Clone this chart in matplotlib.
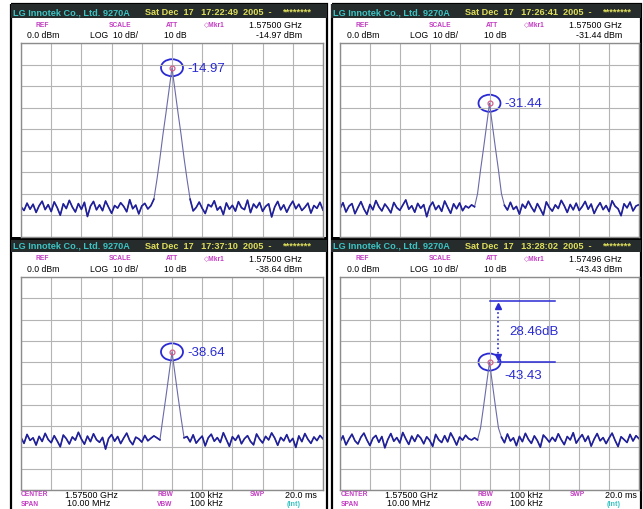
import numpy as np
import matplotlib
matplotlib.use('Agg')
import matplotlib.pyplot as plt
import matplotlib.transforms as mtransforms
from matplotlib.patches import Rectangle, Ellipse

plt.rcParams['font.family'] = ['Liberation Sans', 'DejaVu Sans']

# marker readings (dBm) for the four captures: TL, TR, BL, BR
mkr_dbm = [-14.97, -31.44, -38.64, -43.43]
mkr_ghz = ['1.57500', '1.57500', '1.57500', '1.57496']
stamps = ['17:22:49', '17:26:41', '17:37:10', '13:28:02']

# carrier shape relative to the marker, MHz offset vs dB
peak_off = [-0.7, -0.6, -0.5, -0.4, -0.3, -0.2, -0.1, 0.0,
            0.1, 0.2, 0.3, 0.4, 0.5, 0.6, 0.7]
peak_rel = [-68, -61, -52, -42, -31, -21, -10.5, 0,
            -10.5, -21, -31, -42, -52, -61, -68]

# noise floor traces, -5..+5 MHz around centre, 0.1 MHz steps
noise_tl = [-79.5, -81.2, -77.8, -80.6, -78.3, -82.1, -79.0, -76.9, -80.8, -78.5,
            -81.7, -77.2, -79.9, -83.4, -78.1, -80.3, -76.5, -79.6, -81.9, -78.0,
            -80.7, -77.4, -84.0, -79.2, -77.0, -80.9, -78.6, -81.3, -76.8, -79.7,
            -82.5, -78.9, -80.1, -77.6, -79.3, -81.8, -76.2, -80.4, -78.7, -82.8,
            -79.1, -77.9, -80.5, -79.0, -78.0, -79.0, -80.0, -80.0, -80.0, -80.0,
            -80.0, -80.0, -80.0, -80.0, -80.0, -79.0, -78.5, -81.4, -79.8, -77.3,
            -80.2, -82.6, -78.4, -79.5, -76.7, -81.0, -79.4, -83.1, -77.7, -80.6,
            -78.8, -81.5, -77.1, -79.9, -80.8, -76.4, -82.2, -78.2, -80.0, -77.5,
            -81.6, -79.3, -78.1, -84.2, -79.6, -77.0, -80.9, -78.6, -82.0, -79.1,
            -76.9, -80.4, -78.3, -81.2, -79.7, -77.8, -82.4, -78.9, -80.2, -77.4, -81.0]
noise_tr = [-80.3, -77.6, -81.9, -79.2, -78.0, -82.7, -79.8, -77.1, -80.5, -83.0,
            -78.4, -80.9, -76.6, -79.5, -81.4, -78.2, -80.0, -82.3, -77.5, -79.9,
            -81.1, -78.7, -76.3, -80.6, -79.0, -82.0, -77.9, -80.2, -78.5, -84.1,
            -79.4, -77.3, -80.8, -78.9, -81.6, -76.8, -79.7, -82.5, -78.1, -80.4,
            -77.7, -81.3, -79.1, -80.0, -78.6, -79.5, -80.0, -80.0, -80.0, -80.0,
            -80.0, -80.0, -80.0, -80.0, -79.5, -78.8, -81.0, -77.4, -80.7, -79.3,
            -82.9, -78.3, -80.1, -76.9, -79.6, -81.8, -78.0, -80.5, -83.3, -77.2,
            -79.8, -81.5, -78.6, -80.3, -76.5, -79.0, -82.1, -78.4, -80.9, -77.8,
            -81.2, -79.4, -77.0, -80.6, -78.2, -82.6, -79.7, -77.6, -80.8, -78.9,
            -81.7, -76.7, -79.2, -80.4, -83.6, -78.1, -80.0, -77.3, -81.4, -79.1, -78.5]
noise_bl = [-78.9, -81.6, -77.4, -80.2, -79.0, -82.4, -78.3, -80.7, -76.9, -79.8,
            -81.3, -78.0, -80.5, -83.2, -77.7, -79.4, -81.9, -78.6, -80.1, -76.4,
            -79.6, -82.0, -78.2, -80.8, -77.1, -79.9, -81.1, -78.8, -84.3, -79.3,
            -77.5, -80.6, -78.4, -81.7, -79.1, -76.8, -80.3, -82.2, -78.7, -79.5,
            -81.0, -77.9, -80.4, -79.2, -78.1, -79.0, -80.0, -80.0, -80.0, -80.0,
            -80.0, -80.0, -80.0, -80.0, -79.0, -78.4, -80.9, -77.6, -81.5, -79.7,
            -78.2, -82.8, -79.0, -77.3, -80.6, -78.9, -81.2, -76.6, -79.8, -83.0,
            -78.5, -80.2, -77.8, -81.8, -79.4, -78.0, -80.7, -82.3, -77.2, -79.6,
            -81.4, -78.3, -80.0, -76.7, -79.1, -82.5, -78.8, -80.4, -77.5, -81.0,
            -79.3, -83.5, -78.1, -80.8, -77.0, -79.7, -81.6, -78.6, -80.3, -77.9, -79.5]
noise_br = [-80.8, -78.1, -82.3, -79.6, -77.3, -80.4, -81.9, -78.7, -76.8, -80.0,
            -82.6, -79.2, -77.9, -81.1, -78.4, -83.7, -79.8, -77.0, -80.6, -78.9,
            -81.4, -76.5, -79.5, -82.1, -78.2, -80.7, -77.6, -79.1, -81.8, -78.5,
            -80.2, -83.0, -77.4, -79.9, -81.2, -78.0, -80.9, -76.7, -79.3, -82.4,
            -78.6, -80.1, -77.8, -79.4, -80.0, -79.0, -80.0, -80.0, -80.0, -80.0,
            -80.0, -80.0, -80.0, -79.5, -78.7, -81.3, -77.2, -80.5, -79.0, -82.7,
            -78.3, -80.8, -76.9, -79.7, -81.6, -78.1, -80.3, -83.4, -77.7, -79.2,
            -81.0, -78.8, -80.6, -77.1, -79.9, -82.2, -78.4, -80.0, -76.6, -81.5,
            -79.3, -77.5, -80.7, -78.2, -82.9, -79.6, -77.0, -80.4, -78.9, -81.7,
            -79.1, -76.8, -80.2, -83.1, -78.5, -79.8, -81.2, -77.4, -80.5, -78.0, -79.4]
noises = [noise_tl, noise_tr, noise_bl, noise_br]

W, H = 643, 509
fig = plt.figure(figsize=(W / 100, H / 100), dpi=100)
bg = fig.add_axes([0, 0, 1, 1])
bg.set_xlim(0, W)
bg.set_ylim(H, 0)
bg.axis('off')


def px_axes(x0, y0, x1, y1):
    return fig.add_axes([x0 / W, 1 - y1 / H, (x1 - x0) / W, (y1 - y0) / H])


HEAD = '#262c2c'
CYAN = '#3cc4c4'
YELL = '#dede5a'
MAG = '#c23cc2'
BLUE = '#2a2ad4'
TRACE = '#20209a'
SLOPE = '#6a6aa8'

# column frames
for x0, x1 in [(11, 327), (332, 641)]:
    bg.add_patch(Rectangle((x0, 4), x1 - x0, H, fill=False, ec='black', lw=1.6))

# panel origins and grid boxes (px)
origins = [(11, 4), (331, 4), (11, 238), (331, 238)]
grids = [(21, 43, 323, 237), (340, 43, 639, 237),
         (21, 277, 323, 490), (340, 277, 639, 490)]
top_db = -3.5

for i, (ox, oy) in enumerate(origins):
    pw = 316 if ox < 100 else 310
    bg.add_patch(Rectangle((ox, oy), pw, 14, fc=HEAD, ec='none'))
    if oy > 100:
        bg.add_patch(Rectangle((ox, oy - 1), pw, 3, fc='black', ec='none'))
    hy = oy + 8.5
    bg.text(ox + 2, hy, 'LG Innotek Co., Ltd. 9270A', color=CYAN, fontsize=6.6,
            fontweight='bold', va='center')
    bg.text(ox + 134, hy, f'Sat Dec  17   {stamps[i]}  2005  -', color=YELL, fontsize=6.6,
            fontweight='bold', va='center')
    bg.text(ox + 272, hy, '********', color=YELL, fontsize=6.6, fontweight='bold', va='center')

    ly, vy = oy + 21, oy + 31
    for lab, cx in [('REF', 31), ('SCALE', 109), ('ATT', 161), ('◇Mkr1', 203)]:
        bg.text(ox + cx, ly, lab, color=MAG, fontsize=4.8, fontweight='bold',
                ha='center', va='center')
    bg.text(ox + 291, ly, f'{mkr_ghz[i]} GHz', fontsize=6.4, ha='right', va='center')
    bg.text(ox + 16, vy, '0.0 dBm', fontsize=6.2, va='center')
    bg.text(ox + 79, vy, 'LOG  10 dB/', fontsize=6.2, va='center')
    bg.text(ox + 153, vy, '10 dB', fontsize=6.2, va='center')
    bg.text(ox + 291, vy, f'{mkr_dbm[i]:.2f} dBm', fontsize=6.4, ha='right', va='center')

    if oy > 100:
        r1, r2 = 495, 504
        for lab, dx, y in [('CENTER', 10, r1), ('RBW', 146, r1), ('SWP', 239, r1),
                           ('SPAN', 10, r2), ('VBW', 146, r2)]:
            bg.text(ox + dx, y, lab, color=MAG, fontsize=4.8, fontweight='bold', va='center')
        for lab, dx, y in [('1.57500 GHz', 54, r1), ('100 kHz', 179, r1), ('20.0 ms', 274, r1),
                           ('10.00 MHz', 56, r2), ('100 kHz', 179, r2)]:
            bg.text(ox + dx, y, lab, fontsize=6.4, va='center')
        bg.text(ox + 276, r2, '(Int)', color=CYAN, fontsize=5.2, fontweight='bold', va='center')

    # trace area
    gx0, gy0, gx1, gy1 = grids[i]
    ax = px_axes(gx0, gy0, gx1, gy1)
    nrows = 9 if gy0 < 100 else 10
    ax.set_xlim(-5, 5)
    ax.set_ylim(top_db - 10 * nrows, top_db)
    ax.set_xticks(np.arange(-5, 5.1, 1))
    ax.set_yticks(top_db - 10 * np.arange(nrows + 1))
    ax.tick_params(length=0, labelbottom=False, labelleft=False)
    ax.grid(True, color='#b4b4b4', lw=0.8)
    for s in ax.spines.values():
        s.set_color('#8c8c8c')
        s.set_linewidth(1.0)

    noise = np.array(noises[i])
    freq = np.linspace(-5, 5, len(noise))
    carrier = mkr_dbm[i] + np.interp(freq, peak_off, peak_rel, left=-200, right=-200)
    trace = np.maximum(noise, carrier)
    # thin slopes for the carrier, heavier stroke on the noise floor
    ax.plot(freq, trace, color=SLOPE, lw=0.8)
    floor = np.where(carrier > noise + 4, np.nan, trace)
    ax.plot(freq, floor, color=TRACE, lw=1.2)

    # marker ring and label
    ring_tf = fig.dpi_scale_trans + mtransforms.ScaledTranslation(0, mkr_dbm[i], ax.transData)
    ax.add_patch(Ellipse((0, 0), 0.22, 0.17, transform=ring_tf, fill=False,
                         ec=BLUE, lw=1.3, clip_on=False))
    ax.plot([0], [mkr_dbm[i]], marker='o', ms=3.5, mfc='none', mec='#d0608c', mew=0.9)
    dy = -14 if i == 3 else -1
    ax.annotate(f'{mkr_dbm[i]:.2f}', (0, mkr_dbm[i]), xytext=(15, dy),
                textcoords='offset pixels', color=BLUE, fontsize=9.5,
                ha='left', va='center')

    if i == 3:
        ref = mkr_dbm[0]
        delta = ref - mkr_dbm[3]
        ax.plot([0.0, 2.2], [ref, ref], color=BLUE, lw=1.1)
        ax.plot([0.3, 2.2], [mkr_dbm[3], mkr_dbm[3]], color=BLUE, lw=1.1)
        ax.plot([0.27, 0.27], [mkr_dbm[3] + 2, ref - 2], color=BLUE, lw=1.2, ls=':')
        ax.plot([0.27], [ref - 2.2], marker='^', ms=5, color=BLUE)
        ax.plot([0.27], [mkr_dbm[3] + 2.2], marker='v', ms=5, color=BLUE)
        ax.text(0.67, (ref + mkr_dbm[3]) / 2, f'{delta:.2f}dB', color=BLUE,
                fontsize=9.5, ha='left', va='center')

fig.savefig('out.png', dpi=100)
